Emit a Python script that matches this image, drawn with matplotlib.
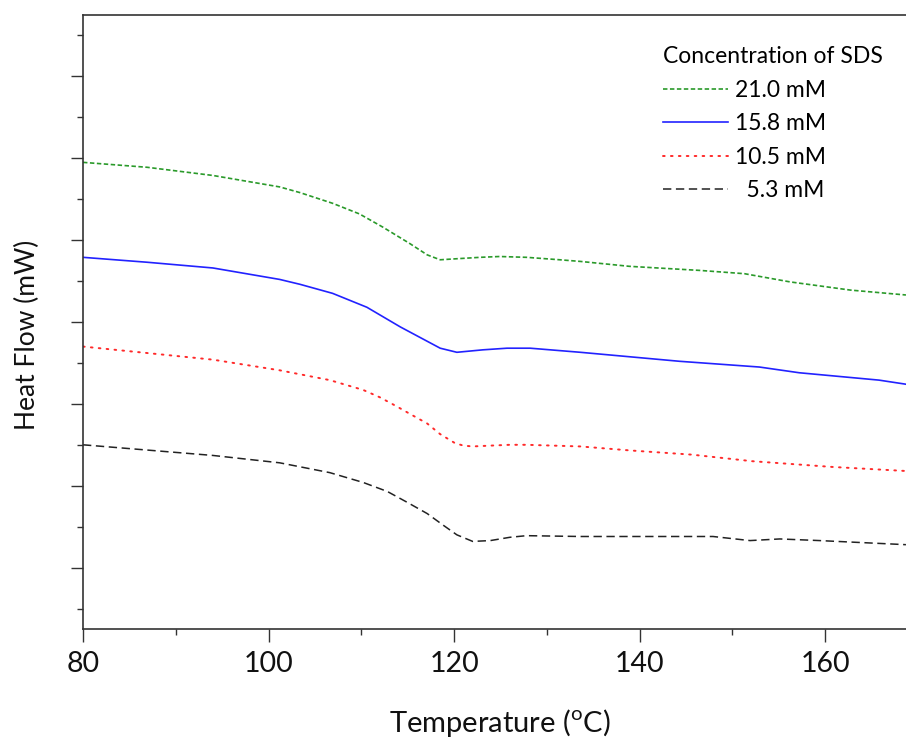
import matplotlib
matplotlib.use("Agg")
import matplotlib.pyplot as plt
from matplotlib.ticker import MultipleLocator, NullFormatter

plt.rcParams['font.family'] = ['Lato', 'DejaVu Sans']
plt.rcParams['mathtext.fontset'] = 'custom'
plt.rcParams['mathtext.rm'] = 'Lato'
plt.rcParams['lines.scale_dashes'] = False

# DSC curves (heat flow in arbitrary units, offset per curve)
temp_21 = [80, 86.9, 94.0, 101.2, 103.4, 106.9, 109.8, 112.3, 115.2, 117.1, 118.5,
           119.9, 122.8, 124.9, 127.8, 131.4, 133.6, 138.9, 146.5, 151.3, 156.2,
           162.7, 168.7]
flow_21 = [5.95, 5.89, 5.79, 5.65, 5.58, 5.45, 5.32, 5.16, 4.96, 4.82, 4.76,
           4.77, 4.79, 4.80, 4.79, 4.76, 4.74, 4.68, 4.63, 4.59, 4.49,
           4.39, 4.33]

temp_158 = [80, 86.9, 94.0, 101.2, 103.4, 106.9, 110.6, 114.2, 118.5, 120.3,
            123.1, 125.7, 128.2, 133.6, 144.3, 152.9, 157.2, 165.8, 168.7]
flow_158 = [4.79, 4.73, 4.66, 4.52, 4.46, 4.35, 4.18, 3.94, 3.68, 3.63,
            3.66, 3.68, 3.68, 3.63, 3.52, 3.45, 3.38, 3.29, 3.24]

temp_105 = [80, 94.0, 101.2, 106.6, 110.2, 112.0, 113.8, 115.2, 117.1, 118.5,
            120.1, 121.0, 122.0, 123.9, 126.0, 127.8, 133.6, 139.1, 145.6,
            152.1, 160.7, 168.7]
flow_105 = [3.70, 3.54, 3.41, 3.29, 3.17, 3.08, 2.97, 2.88, 2.76, 2.63,
            2.52, 2.49, 2.48, 2.49, 2.50, 2.50, 2.48, 2.43, 2.38,
            2.30, 2.23, 2.18]

temp_53 = [80, 94.0, 101.2, 106.6, 110.2, 112.8, 114.9, 117.1, 118.8, 120.3,
           122.0, 123.9, 126.0, 127.8, 133.6, 147.9, 151.9, 155.1, 159.4, 168.7]
flow_53 = [2.50, 2.37, 2.28, 2.16, 2.04, 1.93, 1.80, 1.66, 1.52, 1.40,
           1.32, 1.33, 1.37, 1.39, 1.38, 1.38, 1.33, 1.35, 1.33, 1.28]

labels = ['21.0 mM', '15.8 mM', '10.5 mM', '\u20025.3 mM']

fig = plt.figure(figsize=(9.06, 7.41), dpi=100)
ax = fig.add_axes([83 / 906, 112 / 741, 835 / 906, 614 / 741])

ax.plot(temp_21, flow_21, color='#2a9a2a', lw=1.2, dashes=(3.2, 1.8), label=labels[0])
ax.plot(temp_158, flow_158, color='#2222ff', lw=1.2, label=labels[1])
ax.plot(temp_105, flow_105, color='#ff2a2a', lw=1.4, dashes=(1.2, 4.5),
        dash_capstyle='round', label=labels[2])
ax.plot(temp_53, flow_53, color='#222222', lw=1.1, dashes=(6, 3.3), label=labels[3])

ax.set_xlim(80, 170)
ax.set_ylim(0.25, 7.75)
ax.xaxis.set_major_locator(MultipleLocator(20))
ax.xaxis.set_minor_locator(MultipleLocator(10))
ax.yaxis.set_major_locator(MultipleLocator(1))
ax.yaxis.set_minor_locator(MultipleLocator(0.5))
ax.yaxis.set_major_formatter(NullFormatter())

for side in ['left', 'bottom', 'top', 'right']:
    ax.spines[side].set_color('#333333')
    ax.spines[side].set_linewidth(1.2)

ax.tick_params(which='major', length=9, width=1, color='#333333',
               labelsize=20.5, pad=7, labelcolor='#111111')
ax.tick_params(which='minor', length=4.5, width=1, color='#333333')

fig.text(500 / 906, 1 - 723 / 741, r'Temperature ($^{\mathrm{o}}$C)',
         fontsize=21, ha='center', va='center', color='#111111')
fig.text(27 / 906, 1 - 335 / 741, 'Heat Flow (mW)', rotation=90,
         fontsize=19, ha='center', va='center', color='#111111')

leg = ax.legend(loc='upper left', bbox_to_anchor=(663 / 906, 1 - 46 / 741),
                bbox_transform=fig.transFigure, frameon=False, fontsize=16.5,
                title='Concentration of SDS', title_fontsize=16.5,
                handlelength=2.85, handletextpad=0.3, labelspacing=0.55,
                alignment='left', borderaxespad=0, borderpad=0)

fig.savefig('out.png', dpi=100)
